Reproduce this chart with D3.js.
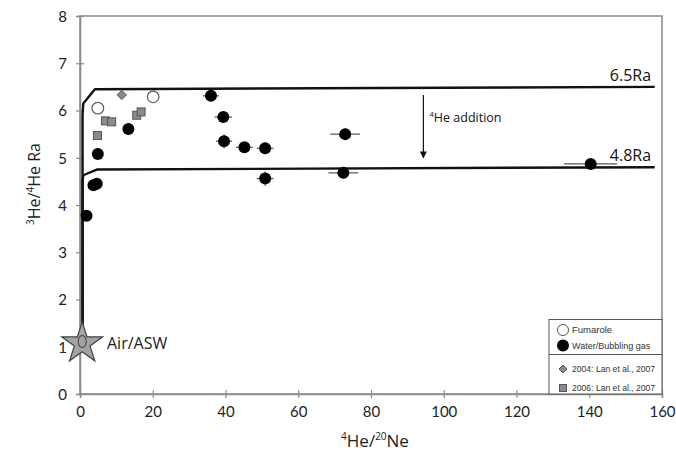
<!DOCTYPE html>
<html>
<head>
<meta charset="utf-8">
<script src="https://cdn.jsdelivr.net/npm/d3@7"></script>
<style>
  html, body { margin: 0; padding: 0; background: #fff; }
  svg { display: block; }
</style>
</head>
<body>
<script>
// Helium isotope data: 3He/4He (R/Ra) against 4He/20Ne
const xTicks = [0, 20, 40, 60, 80, 100, 120, 140, 160];
const yTicks = [0, 1, 2, 3, 4, 5, 6, 7, 8];

const fumaroleX = [4.9, 20.1];
const fumaroleY = [6.05, 6.29];

const waterX    = [1.8, 3.7, 4.6, 4.9, 13.3, 36.0, 39.4, 39.6, 45.2, 50.9, 50.9, 72.9, 72.4, 140.4];
const waterY    = [3.77, 4.42, 4.45, 5.08, 5.61, 6.31, 5.86, 5.35, 5.22, 5.20, 4.56, 5.50, 4.68, 4.87];
const waterXErr = [0, 0, 0, 0, 0, 2.2, 2.4, 2.2, 2.3, 2.3, 2.3, 4.1, 4.1, 7.3];
const waterYErr = [0, 0, 0, 0, 0, 0.05, 0.1, 0.15, 0.1, 0.12, 0.15, 0.12, 0.08, 0.08];

const lan2004X = [11.5];
const lan2004Y = [6.33];

const lan2006X = [4.8, 7.0, 8.7, 15.6, 16.8];
const lan2006Y = [5.47, 5.78, 5.76, 5.90, 5.97];

// Air–mantle mixing lines
const mixHighX = [0.7, 0.7, 0.9, 4.1, 158];
const mixHighY = [1.0, 5.9, 6.15, 6.45, 6.5];
const mixLowX  = [0.7, 0.7, 0.9, 4.6, 158];
const mixLowY  = [1.0, 4.5, 4.63, 4.75, 4.8];

const airX = [0.6];
const airY = [1.07];

const W = 676, H = 456;
const svg = d3.select("body").append("svg").attr("width", W).attr("height", H);

const x = d3.scaleLinear().domain([0, 160]).range([80, 662]);
const y = d3.scaleLinear().domain([0, 8]).range([394, 16]);

const tickFont = "Lato, 'Open Sans', sans-serif";
const labelFont = "'Open Sans', 'Noto Sans', sans-serif";
const axisGray = "#8a8a8a";

// Frame
svg.append("rect")
  .attr("x", x(0)).attr("y", y(8))
  .attr("width", x(160) - x(0)).attr("height", y(0) - y(8))
  .attr("fill", "none").attr("stroke", axisGray).attr("stroke-width", 1.5);

// Axes
const gx = svg.append("g").attr("transform", `translate(0,${y(0)})`)
  .call(d3.axisBottom(x).tickValues(xTicks).tickSize(4).tickFormat(d3.format("d")));
gx.select(".domain").attr("stroke", axisGray).attr("stroke-width", 1.5);
gx.selectAll(".tick line").attr("y1", -4).attr("y2", 4).attr("stroke", axisGray).attr("stroke-width", 1.2);
gx.selectAll(".tick text").attr("y", 12).attr("dy", "0.71em")
  .attr("font-family", tickFont).attr("font-size", 15).attr("fill", "#222");

const gy = svg.append("g").attr("transform", `translate(${x(0)},0)`)
  .call(d3.axisLeft(y).tickValues(yTicks).tickSize(4).tickFormat(d3.format("d")));
gy.select(".domain").attr("stroke", axisGray).attr("stroke-width", 1.5);
gy.selectAll(".tick line").attr("x1", -4).attr("x2", 4).attr("stroke", axisGray).attr("stroke-width", 1.2);
gy.selectAll(".tick text").attr("x", -13).attr("dy", "0.35em")
  .attr("font-family", tickFont).attr("font-size", 15).attr("fill", "#222");

// Axis titles
const xt = svg.append("text")
  .attr("x", 375).attr("y", 447).attr("text-anchor", "middle")
  .attr("font-family", labelFont).attr("font-size", 17).attr("fill", "#222");
xt.append("tspan").attr("font-size", 10).attr("dy", -7).text("4");
xt.append("tspan").attr("dy", 7).text("He/");
xt.append("tspan").attr("font-size", 10).attr("dy", -7).text("20");
xt.append("tspan").attr("dy", 7).text("Ne");

const yt = svg.append("text")
  .attr("transform", "translate(40,184) rotate(-90)").attr("text-anchor", "middle")
  .attr("font-family", labelFont).attr("font-size", 16).attr("fill", "#222");
yt.append("tspan").attr("font-size", 10).attr("dy", -6).text("3");
yt.append("tspan").attr("dy", 6).text("He/");
yt.append("tspan").attr("font-size", 10).attr("dy", -6).text("4");
yt.append("tspan").attr("dy", 6).text("He Ra");

// Mixing lines
const line = d3.line().x(d => x(d[0])).y(d => y(d[1]));
[[mixHighX, mixHighY], [mixLowX, mixLowY]].forEach(([xs, ys]) => {
  svg.append("path")
    .datum(xs.map((v, i) => [v, ys[i]]))
    .attr("d", line)
    .attr("fill", "none").attr("stroke", "#111").attr("stroke-width", 2.4)
    .attr("stroke-linejoin", "round");
});

svg.append("text").attr("x", x(157)).attr("y", y(6.5) - 6).attr("text-anchor", "end")
  .attr("font-family", labelFont).attr("font-size", 16).attr("fill", "#111").text("6.5Ra");
svg.append("text").attr("x", x(157)).attr("y", y(4.8) - 6).attr("text-anchor", "end")
  .attr("font-family", labelFont).attr("font-size", 16).attr("fill", "#111").text("4.8Ra");

// 4He addition arrow
svg.append("defs").append("marker")
  .attr("id", "arrowhead").attr("viewBox", "0 0 10 10")
  .attr("refX", 9).attr("refY", 5).attr("markerWidth", 7).attr("markerHeight", 9)
  .attr("orient", "auto").attr("markerUnits", "userSpaceOnUse")
  .append("path").attr("d", "M0,0 L10,5 L0,10 Z").attr("fill", "#111");
svg.append("line")
  .attr("x1", x(94.4)).attr("x2", x(94.4)).attr("y1", y(6.33)).attr("y2", y(5.0))
  .attr("stroke", "#111").attr("stroke-width", 1.2).attr("marker-end", "url(#arrowhead)");
const at = svg.append("text").attr("x", x(96.1)).attr("y", y(5.75))
  .attr("font-family", labelFont).attr("font-size", 12.5).attr("fill", "#111");
at.append("tspan").attr("font-size", 7.5).attr("dy", -5).text("4");
at.append("tspan").attr("dy", 5).text("He addition");

// Air / ASW end-member
const star = d3.symbol().type(d3.symbolStar).size(520);
svg.append("path")
  .attr("d", star())
  .attr("transform", `translate(${x(airX[0])},${y(airY[0])})`)
  .attr("fill", "#a3a3a3").attr("stroke", "#444").attr("stroke-width", 1.2);
svg.append("ellipse")
  .attr("cx", x(airX[0])).attr("cy", y(airY[0]) - 2).attr("rx", 4).attr("ry", 6)
  .attr("fill", "none").attr("stroke", "#444").attr("stroke-width", 1.1);
svg.append("text").attr("x", 107).attr("y", y(airY[0]) + 6)
  .attr("font-family", labelFont).attr("font-size", 16).attr("fill", "#222").text("Air/ASW");

// Lan et al. data
const sq = 8;
svg.append("g").selectAll("rect").data(lan2006X.map((v, i) => [v, lan2006Y[i]])).join("rect")
  .attr("x", d => x(d[0]) - sq / 2).attr("y", d => y(d[1]) - sq / 2)
  .attr("width", sq).attr("height", sq)
  .attr("fill", "#8a8a8a").attr("stroke", "#555").attr("stroke-width", 1);
svg.append("g").selectAll("path").data(lan2004X.map((v, i) => [v, lan2004Y[i]])).join("path")
  .attr("d", d3.symbol().type(d3.symbolDiamond2).size(55)())
  .attr("transform", d => `translate(${x(d[0])},${y(d[1])})`)
  .attr("fill", "#8a8a8a").attr("stroke", "#555").attr("stroke-width", 1);

// Water / bubbling gas with error bars
const water = waterX.map((v, i) => ({ x: v, y: waterY[i], ex: waterXErr[i], ey: waterYErr[i] }));
const eb = svg.append("g").attr("stroke", "#555").attr("stroke-width", 1.2);
water.filter(d => d.ex > 0).forEach(d => {
  eb.append("line").attr("x1", x(d.x - d.ex)).attr("x2", x(d.x + d.ex))
    .attr("y1", y(d.y)).attr("y2", y(d.y));
  eb.append("line").attr("x1", x(d.x)).attr("x2", x(d.x))
    .attr("y1", y(d.y - d.ey)).attr("y2", y(d.y + d.ey));
});
svg.append("g").selectAll("circle").data(water).join("circle")
  .attr("cx", d => x(d.x)).attr("cy", d => y(d.y)).attr("r", 6)
  .attr("fill", "#000");

// Fumarole
svg.append("g").selectAll("circle").data(fumaroleX.map((v, i) => [v, fumaroleY[i]])).join("circle")
  .attr("cx", d => x(d[0])).attr("cy", d => y(d[1])).attr("r", 5.8)
  .attr("fill", "#fff").attr("stroke", "#666").attr("stroke-width", 1.3);

// Legend
const lg = svg.append("g");
lg.append("rect").attr("x", 549).attr("y", 319.5).attr("width", 113).attr("height", 74.5)
  .attr("fill", "#fff").attr("stroke", "#555").attr("stroke-width", 1);
lg.append("line").attr("x1", 549).attr("x2", 662).attr("y1", 354.5).attr("y2", 354.5)
  .attr("stroke", "#555").attr("stroke-width", 1);
const lx = 563;
lg.append("circle").attr("cx", lx).attr("cy", 330).attr("r", 5.5)
  .attr("fill", "#fff").attr("stroke", "#555").attr("stroke-width", 1);
lg.append("circle").attr("cx", lx).attr("cy", 345.5).attr("r", 6).attr("fill", "#000");
lg.append("path").attr("d", d3.symbol().type(d3.symbolDiamond2).size(40)())
  .attr("transform", `translate(${lx},369)`)
  .attr("fill", "#8a8a8a").attr("stroke", "#555").attr("stroke-width", 1);
lg.append("rect").attr("x", lx - 3.5).attr("y", 384.5).attr("width", 7).attr("height", 7)
  .attr("fill", "#8a8a8a").attr("stroke", "#555").attr("stroke-width", 1);
const legFont = "'Liberation Sans', Arial, sans-serif";
[["Fumarole", 330, 9.5], ["Water/Bubbling gas", 345.5, 9],
 ["2004: Lan et al., 2007", 369, 8.6], ["2006: Lan et al., 2007", 388, 8.6]].forEach(([t, cy, fs]) => {
  lg.append("text").attr("x", 572).attr("y", cy).attr("dy", "0.35em")
    .attr("font-family", legFont).attr("font-size", fs).attr("fill", "#333").text(t);
});
</script>
</body>
</html>
